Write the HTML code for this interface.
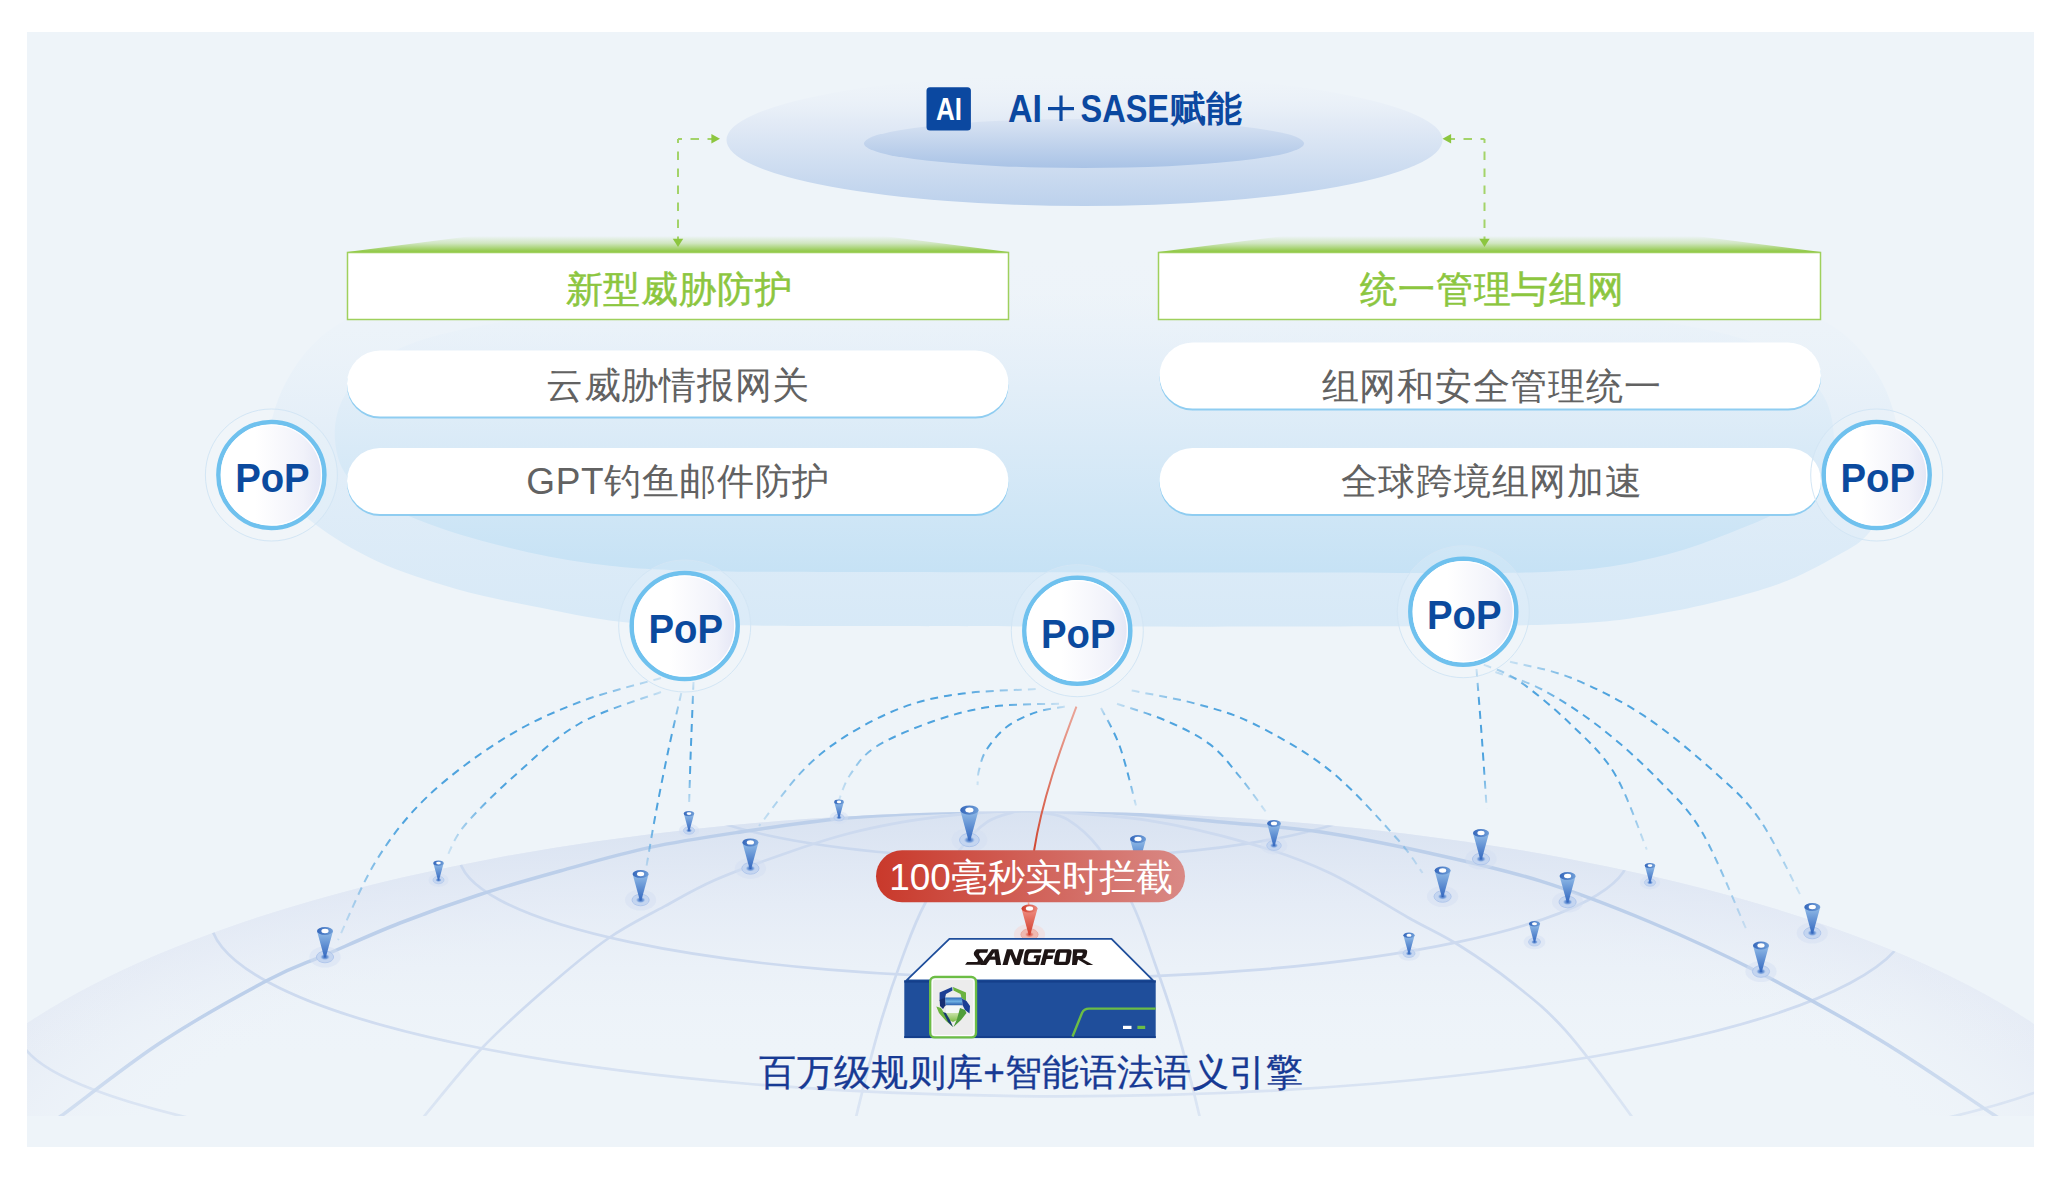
<!DOCTYPE html>
<html><head><meta charset="utf-8"><title>AI+SASE</title>
<style>
html,body{margin:0;padding:0;background:#fff;}
body{width:2061px;height:1180px;overflow:hidden;position:relative;font-family:"Liberation Sans",sans-serif;}
</style></head><body>
<svg width="2061" height="1180" viewBox="0 0 2061 1180" style="position:absolute;left:0;top:0">
<defs>
 <linearGradient id="gTopOuter" x1="0" y1="0" x2="0" y2="1">
  <stop offset="0" stop-color="#eef3f9" stop-opacity="0"/>
  <stop offset="0.35" stop-color="#e3ebf6"/>
  <stop offset="1" stop-color="#bcd1ec"/>
 </linearGradient>
 <linearGradient id="gTopInner" x1="0" y1="0" x2="0" y2="1">
  <stop offset="0" stop-color="#dae4f3"/>
  <stop offset="1" stop-color="#a9c3e6"/>
 </linearGradient>
 <linearGradient id="gCloudOuter" gradientUnits="userSpaceOnUse" x1="0" y1="250" x2="0" y2="626">
  <stop offset="0" stop-color="#eef4f9" stop-opacity="0"/>
  <stop offset="0.5" stop-color="#e3eef8"/>
  <stop offset="1" stop-color="#d7e9f7"/>
 </linearGradient>
 <linearGradient id="gCloudInner" gradientUnits="userSpaceOnUse" x1="0" y1="290" x2="0" y2="572">
  <stop offset="0" stop-color="#e9f1f9" stop-opacity="0"/>
  <stop offset="0.35" stop-color="#e2eef8"/>
  <stop offset="1" stop-color="#c6e2f5"/>
 </linearGradient>
 <linearGradient id="gGreenTrap" x1="0" y1="0" x2="0" y2="1">
  <stop offset="0" stop-color="#8cc63f" stop-opacity="0"/>
  <stop offset="0.45" stop-color="#8cc63f" stop-opacity="0.3"/>
  <stop offset="1" stop-color="#8cc63f"/>
 </linearGradient>
 <linearGradient id="gPopFill" x1="0" y1="0" x2="1" y2="0">
  <stop offset="0.35" stop-color="#ffffff"/>
  <stop offset="0.8" stop-color="#f1f2fa"/>
  <stop offset="1" stop-color="#e3e5f5"/>
 </linearGradient>
 <radialGradient id="gSphereRim" cx="0.5" cy="0.5" r="0.5">
  <stop offset="0.8" stop-color="#eef3f9" stop-opacity="0"/>
  <stop offset="1" stop-color="#e5ebf5"/>
 </radialGradient>
 <linearGradient id="gSphereTop" gradientUnits="userSpaceOnUse" x1="0" y1="808" x2="0" y2="1060">
  <stop offset="0" stop-color="#d8e2f1"/>
  <stop offset="0.4" stop-color="#e2e9f5" stop-opacity="0.7"/>
  <stop offset="1" stop-color="#eef3f9" stop-opacity="0"/>
 </linearGradient>
 <linearGradient id="gRedPill" x1="0" y1="0" x2="1" y2="0">
  <stop offset="0" stop-color="#c9392b"/>
  <stop offset="1" stop-color="#d98985"/>
 </linearGradient>
 <linearGradient id="gRedLine" x1="0" y1="0" x2="0" y2="1">
  <stop offset="0" stop-color="#e8836f" stop-opacity="0.7"/>
  <stop offset="1" stop-color="#d0462f"/>
 </linearGradient>
 <linearGradient id="gCone" x1="0" y1="0" x2="0" y2="1">
  <stop offset="0" stop-color="#93bde8"/>
  <stop offset="1" stop-color="#3569c0"/>
 </linearGradient>
 <linearGradient id="gCap" x1="0" y1="0" x2="1" y2="0">
  <stop offset="0" stop-color="#3567bb"/>
  <stop offset="1" stop-color="#6f9ed8"/>
 </linearGradient>
 <radialGradient id="gTipGlow" cx="0.5" cy="0.5" r="0.5">
  <stop offset="0" stop-color="#2a5db5"/>
  <stop offset="0.6" stop-color="#5f8fd6" stop-opacity="0.7"/>
  <stop offset="1" stop-color="#a9c2ea" stop-opacity="0"/>
 </radialGradient>
 <linearGradient id="gConeR" x1="0" y1="0" x2="0" y2="1">
  <stop offset="0" stop-color="#ef8f84"/>
  <stop offset="1" stop-color="#d23d2c"/>
 </linearGradient>
 <linearGradient id="gCapR" x1="0" y1="0" x2="1" y2="0">
  <stop offset="0" stop-color="#cf3a2a"/>
  <stop offset="1" stop-color="#ea8a7d"/>
 </linearGradient>
 <radialGradient id="gTipGlowR" cx="0.5" cy="0.5" r="0.5">
  <stop offset="0" stop-color="#d23d2c"/>
  <stop offset="0.6" stop-color="#e5796b" stop-opacity="0.7"/>
  <stop offset="1" stop-color="#efb9b1" stop-opacity="0"/>
 </radialGradient>
 <linearGradient id="gFade" gradientUnits="userSpaceOnUse" x1="0" y1="1000" x2="0" y2="1116">
  <stop offset="0" stop-color="#fff"/>
  <stop offset="1" stop-color="#fff" stop-opacity="0.55"/>
 </linearGradient>
 <mask id="mFade" maskUnits="userSpaceOnUse" x="0" y="0" width="2061" height="1180"><rect x="0" y="0" width="2061" height="1180" fill="url(#gFade)"/></mask>
 <clipPath id="cpPanel"><rect x="27" y="32" width="2007" height="1084"/></clipPath>
 <clipPath id="cpSphere"><ellipse cx="1030" cy="1204.5" rx="1130" ry="393.3"/></clipPath>
</defs>

<rect x="27" y="32" width="2007" height="1115" fill="#eef4f9"/>
<g clip-path="url(#cpPanel)">
<ellipse cx="1030" cy="1204.5" rx="1130" ry="393.3" fill="url(#gSphereRim)"/>
<ellipse cx="1030" cy="1204.5" rx="1130" ry="393.3" fill="url(#gSphereTop)"/>
<g clip-path="url(#cpSphere)" mask="url(#mFade)" fill="none" stroke="#cddaef" stroke-width="2.7">
<path d="M660.0,779.0 A370.0,79.8 0 0 0 1400.0,779.0" stroke="#cad8ee" stroke-width="2.5"/>
<path d="M459.0,854.7 A585.0,123.6 0 0 0 1629.0,854.7" />
<path d="M210.0,917.0 A850.0,179.4 0 0 0 1910.0,917.0" />
<path d="M18.0,1030.0 A1050.0,160.6 0 0 0 2118.0,1030.0" />
<path d="M40.0,1130.0 C43.5,1127.7 41.0,1130.5 61.0,1116.0 C81.0,1101.5 125.5,1065.7 160.0,1043.0 C194.5,1020.3 240.3,994.7 268.0,980.0 C295.7,965.3 304.0,964.1 326.0,954.6 C348.0,945.1 374.6,932.9 400.0,923.0 C425.4,913.1 451.8,903.7 478.5,895.0 C505.2,886.3 531.4,878.9 560.0,871.0 C588.6,863.1 618.8,854.1 650.0,847.4 C681.2,840.7 714.7,835.9 747.0,831.0 C779.3,826.1 811.7,821.4 844.0,818.3 C876.3,815.2 908.3,813.8 941.0,812.5 C973.7,811.2 1008.5,810.2 1040.0,810.5 C1071.5,810.8 1099.3,812.0 1130.0,814.0 C1160.7,816.0 1192.2,819.2 1224.0,822.2 C1255.8,825.2 1286.7,826.8 1321.0,832.0 C1355.3,837.2 1393.5,845.1 1430.0,853.2 C1466.5,861.4 1503.3,869.4 1540.0,880.9 C1576.7,892.4 1613.4,906.7 1650.0,922.0 C1686.6,937.3 1721.2,953.1 1759.5,972.8 C1797.8,992.5 1840.9,1016.3 1880.0,1040.0 C1919.1,1063.7 1970.7,1099.5 1994.0,1115.0 C2017.3,1130.5 2015.7,1130.0 2020.0,1133.0" stroke="#bccfea" stroke-width="3.5"/>
<path d="M405.0,1140.0 C408.2,1136.0 411.7,1131.2 424.4,1116.0 C437.1,1100.8 461.7,1069.5 481.3,1048.8 C500.9,1028.1 521.3,1010.1 542.3,991.8 C563.3,973.5 587.0,953.2 607.4,939.0 C627.8,924.8 646.5,916.2 664.4,906.4 C682.3,896.6 694.8,888.9 715.0,880.0 C735.2,871.1 764.4,860.7 785.9,853.2 C807.4,845.7 824.6,840.0 844.0,834.8 C863.4,829.6 882.6,825.6 902.0,822.2 C921.4,818.8 941.0,816.4 960.5,814.4 C980.0,812.4 1005.5,811.1 1018.7,810.5 C1032.0,809.9 1036.5,810.5 1040.0,810.5"/>
<path d="M1020.0,810.5 C1023.3,810.6 1018.9,809.4 1040.0,811.0 C1061.1,812.6 1111.4,814.8 1146.4,820.2 C1181.4,825.6 1219.6,834.9 1250.0,843.6 C1280.4,852.3 1302.5,860.2 1328.8,872.5 C1355.1,884.8 1385.7,905.0 1407.6,917.2 C1429.5,929.5 1442.7,935.0 1460.2,946.0 C1477.7,957.0 1495.2,968.9 1512.7,982.9 C1530.2,996.9 1545.5,1008.1 1565.2,1030.2 C1584.9,1052.3 1617.7,1097.2 1631.0,1115.5 C1644.3,1133.8 1642.7,1135.9 1645.0,1140.0"/>
<path d="M852.0,1140.0 C852.8,1135.8 851.9,1134.1 856.6,1114.7 C861.3,1095.3 872.6,1050.1 880.3,1023.8 C888.0,997.4 895.2,976.6 902.7,956.6 C910.2,936.6 915.2,921.7 925.0,903.5 C934.8,885.3 951.2,861.1 961.5,847.6 C971.8,834.1 978.2,828.2 986.6,822.4 C995.0,816.6 1004.6,814.7 1011.8,812.6 C1019.0,810.5 1024.5,810.4 1030.0,810.0 C1035.5,809.6 1042.5,810.0 1045.0,810.0"/>
<path d="M1015.0,810.0 C1017.5,810.0 1025.4,809.6 1030.0,810.0 C1034.6,810.4 1036.3,811.0 1042.6,812.6 C1048.9,814.2 1058.5,813.8 1067.8,819.6 C1077.1,825.4 1087.8,833.6 1098.5,847.6 C1109.2,861.6 1122.8,884.4 1132.1,903.5 C1141.4,922.6 1147.0,941.2 1154.5,962.2 C1162.0,983.2 1169.5,1004.0 1176.9,1029.4 C1184.4,1054.8 1194.9,1096.3 1199.2,1114.7 C1203.5,1133.1 1202.4,1135.8 1203.0,1140.0"/>
</g>
</g>
<ellipse cx="1084.5" cy="140" rx="358" ry="66" fill="url(#gTopOuter)"/>
<ellipse cx="1084" cy="143.5" rx="220" ry="24.5" fill="url(#gTopInner)"/>
<path d="M1084.0,245.0 C1178.7,245.0 1287.3,249.2 1368.0,252.0 C1448.7,254.8 1509.7,257.0 1568.0,262.0 C1626.3,267.0 1675.0,272.0 1718.0,282.0 C1761.0,292.0 1799.3,306.5 1826.0,322.0 C1852.7,337.5 1865.8,355.3 1878.0,375.0 C1890.2,394.7 1897.3,420.8 1899.0,440.0 C1900.7,459.2 1892.9,474.7 1888.0,490.0 C1883.1,505.3 1878.2,521.0 1869.6,532.0 C1861.0,543.0 1853.1,546.8 1836.5,556.0 C1819.9,565.2 1799.4,577.4 1770.0,587.0 C1740.6,596.6 1696.7,607.3 1660.0,613.6 C1623.3,619.9 1610.0,622.5 1550.0,624.6 C1490.0,626.8 1377.7,626.2 1300.0,626.5 C1222.3,626.8 1158.2,626.6 1084.0,626.5 C1009.8,626.4 919.0,626.2 855.0,626.0 C791.0,625.8 739.1,625.7 700.0,625.0 C660.9,624.3 648.1,624.8 620.2,621.7 C592.4,618.6 560.4,611.7 532.9,606.2 C505.4,600.7 481.2,596.2 455.3,588.7 C429.4,581.2 400.9,572.2 377.6,561.5 C354.3,550.8 330.9,536.5 315.5,524.6 C300.1,512.7 292.8,504.1 285.0,490.0 C277.2,475.9 268.2,459.2 269.0,440.0 C269.8,420.8 277.8,394.7 290.0,375.0 C302.2,355.3 315.3,337.5 342.0,322.0 C368.7,306.5 407.0,292.0 450.0,282.0 C493.0,272.0 541.7,267.0 600.0,262.0 C658.3,257.0 719.3,254.8 800.0,252.0 C880.7,249.2 989.3,245.0 1084.0,245.0 Z" fill="url(#gCloudOuter)"/>
<path d="M1084.0,295.0 C1178.7,295.0 1287.3,297.5 1368.0,300.0 C1448.7,302.5 1511.3,305.0 1568.0,310.0 C1624.7,315.0 1672.2,322.3 1708.0,330.0 C1743.8,337.7 1763.8,345.2 1783.0,356.0 C1802.2,366.8 1814.5,381.0 1823.0,395.0 C1831.5,409.0 1833.6,426.7 1834.0,440.0 C1834.4,453.3 1832.4,464.2 1825.5,474.8 C1818.6,485.4 1805.3,494.9 1792.4,503.4 C1779.5,511.8 1770.4,516.7 1748.3,525.5 C1726.2,534.3 1693.0,548.6 1660.0,556.3 C1627.0,564.0 1610.0,569.0 1550.0,571.7 C1490.0,574.4 1377.7,572.4 1300.0,572.5 C1222.3,572.6 1150.8,572.6 1084.0,572.5 C1017.2,572.4 963.0,572.2 899.0,572.0 C835.0,571.8 751.3,572.4 700.0,571.0 C648.7,569.6 625.3,568.0 591.0,563.5 C556.7,559.0 524.4,551.9 494.0,544.0 C463.6,536.1 432.4,526.3 408.7,516.0 C385.0,505.7 364.3,494.7 352.0,482.0 C339.7,469.3 336.2,454.5 335.0,440.0 C333.8,425.5 336.7,409.0 345.0,395.0 C353.3,381.0 365.8,366.8 385.0,356.0 C404.2,345.2 424.2,337.7 460.0,330.0 C495.8,322.3 543.3,315.0 600.0,310.0 C656.7,305.0 719.3,302.5 800.0,300.0 C880.7,297.5 989.3,295.0 1084.0,295.0 Z" fill="url(#gCloudInner)"/>
<g fill="none" stroke="#a3d36a" stroke-width="2" stroke-dasharray="8.5 8.5" stroke-dashoffset="4.5">
<path d="M678,139 V240"/><path d="M678,139 H712"/>
<path d="M1484.5,139 V240"/><path d="M1484.5,139 H1450.5"/>
</g>
<g fill="#8cc63f">
<path d="M672.8,238.8 L683.2,238.8 L678,247 Z"/>
<path d="M711.4,134 L711.4,143.6 L720,138.8 Z"/>
<path d="M1479.3,238.8 L1489.7,238.8 L1484.5,247 Z"/>
<path d="M1451.1,134 L1451.1,143.6 L1442.5,138.8 Z"/>
</g>
<path d="M347,252 L472,236 L884,236 L1009,252 Z" fill="url(#gGreenTrap)"/>
<rect x="347.5" y="252.5" width="661" height="67" fill="#fff" stroke="#9fd05d" stroke-width="1.5"/>
<path d="M1158,252 L1283,236 L1696,236 L1821,252 Z" fill="url(#gGreenTrap)"/>
<rect x="1158.5" y="252.5" width="662" height="67" fill="#fff" stroke="#9fd05d" stroke-width="1.5"/>
<rect x="347.0" y="352.5" width="661.5" height="66.0" rx="33.0" fill="#8fcdf1"/>
<rect x="347.0" y="350.5" width="661.5" height="66.0" rx="33.0" fill="#fff"/>
<rect x="347.0" y="450.0" width="661.5" height="66.0" rx="33.0" fill="#8fcdf1"/>
<rect x="347.0" y="448.0" width="661.5" height="66.0" rx="33.0" fill="#fff"/>
<rect x="1159.5" y="344.5" width="661.5" height="66.0" rx="33.0" fill="#8fcdf1"/>
<rect x="1159.5" y="342.5" width="661.5" height="66.0" rx="33.0" fill="#fff"/>
<rect x="1159.5" y="450.0" width="661.5" height="66.0" rx="33.0" fill="#8fcdf1"/>
<rect x="1159.5" y="448.0" width="661.5" height="66.0" rx="33.0" fill="#fff"/>
<g fill="none" stroke-width="2" stroke-dasharray="8 6">
<linearGradient id="gArc0" gradientUnits="userSpaceOnUse" x1="661.0" y1="678.0" x2="338.0" y2="940.0"><stop offset="0" stop-color="#4ea3de" stop-opacity="0.25"/><stop offset="0.22" stop-color="#4ea3de"/><stop offset="0.7" stop-color="#4ea3de"/><stop offset="1" stop-color="#4ea3de" stop-opacity="0.2"/></linearGradient>
<path d="M661.0,678.0 C647.4,682.0 605.9,691.9 579.6,702.0 C553.3,712.1 528.8,723.0 503.4,738.8 C478.0,754.6 448.2,776.6 427.0,797.0 C405.8,817.4 390.8,837.2 376.0,861.0 C361.2,884.8 344.3,926.8 338.0,940.0" stroke="url(#gArc0)"/>
<linearGradient id="gArc1" gradientUnits="userSpaceOnUse" x1="661.0" y1="692.0" x2="447.4" y2="855.7"><stop offset="0" stop-color="#4ea3de" stop-opacity="0.25"/><stop offset="0.22" stop-color="#4ea3de"/><stop offset="0.7" stop-color="#4ea3de"/><stop offset="1" stop-color="#4ea3de" stop-opacity="0.2"/></linearGradient>
<path d="M661.0,692.0 C647.4,697.2 603.8,709.8 579.6,723.5 C555.4,737.2 535.1,757.5 516.0,774.4 C496.9,791.3 476.4,811.5 465.0,825.0 C453.6,838.5 450.3,850.6 447.4,855.7" stroke="url(#gArc1)"/>
<linearGradient id="gArc2" gradientUnits="userSpaceOnUse" x1="681.3" y1="693.0" x2="645.7" y2="871.0"><stop offset="0" stop-color="#4ea3de" stop-opacity="0.25"/><stop offset="0.22" stop-color="#4ea3de"/><stop offset="0.7" stop-color="#4ea3de"/><stop offset="1" stop-color="#4ea3de" stop-opacity="0.2"/></linearGradient>
<path d="M681.3,693.0 C679.2,702.3 672.8,729.1 668.6,749.0 C664.4,768.9 659.7,792.2 655.9,812.5 C652.1,832.8 647.4,861.2 645.7,871.0" stroke="url(#gArc2)"/>
<linearGradient id="gArc3" gradientUnits="userSpaceOnUse" x1="693.5" y1="682.0" x2="689.0" y2="807.4"><stop offset="0" stop-color="#4ea3de" stop-opacity="0.25"/><stop offset="0.22" stop-color="#4ea3de"/><stop offset="0.7" stop-color="#4ea3de"/><stop offset="1" stop-color="#4ea3de" stop-opacity="0.2"/></linearGradient>
<path d="M693.5,682.0 C693.1,692.5 691.8,724.1 691.0,745.0 C690.2,765.9 689.3,797.0 689.0,807.4" stroke="url(#gArc3)"/>
<linearGradient id="gArc4" gradientUnits="userSpaceOnUse" x1="1035.7" y1="689.0" x2="759.0" y2="826.0"><stop offset="0" stop-color="#4ea3de" stop-opacity="0.25"/><stop offset="0.22" stop-color="#4ea3de"/><stop offset="0.7" stop-color="#4ea3de"/><stop offset="1" stop-color="#4ea3de" stop-opacity="0.2"/></linearGradient>
<path d="M1035.7,689.0 C1023.6,689.8 984.7,690.6 962.9,693.5 C941.1,696.4 924.1,699.6 904.7,706.6 C885.3,713.6 863.4,725.0 846.4,735.7 C829.4,746.4 817.4,755.6 802.8,770.6 C788.2,785.6 766.3,816.8 759.0,826.0" stroke="url(#gArc4)"/>
<linearGradient id="gArc5" gradientUnits="userSpaceOnUse" x1="1059.0" y1="703.7" x2="839.0" y2="800.0"><stop offset="0" stop-color="#4ea3de" stop-opacity="0.25"/><stop offset="0.22" stop-color="#4ea3de"/><stop offset="0.7" stop-color="#4ea3de"/><stop offset="1" stop-color="#4ea3de" stop-opacity="0.2"/></linearGradient>
<path d="M1059.0,703.7 C1047.8,704.2 1012.9,703.7 992.0,706.6 C971.1,709.5 953.2,714.3 933.8,721.0 C914.4,727.7 889.6,738.0 875.6,747.0 C861.6,756.0 856.1,766.2 850.0,775.0 C843.9,783.8 840.8,795.8 839.0,800.0" stroke="url(#gArc5)"/>
<linearGradient id="gArc6" gradientUnits="userSpaceOnUse" x1="1064.8" y1="706.6" x2="977.5" y2="785.2"><stop offset="0" stop-color="#4ea3de" stop-opacity="0.25"/><stop offset="0.22" stop-color="#4ea3de"/><stop offset="0.7" stop-color="#4ea3de"/><stop offset="1" stop-color="#4ea3de" stop-opacity="0.2"/></linearGradient>
<path d="M1064.8,706.6 C1060.0,707.6 1045.4,709.0 1035.7,712.4 C1026.0,715.8 1014.9,720.7 1006.6,727.0 C998.4,733.3 990.8,742.9 986.2,750.2 C981.6,757.5 980.4,764.8 978.9,770.6 C977.4,776.4 977.7,782.8 977.5,785.2" stroke="url(#gArc6)"/>
<linearGradient id="gArc7" gradientUnits="userSpaceOnUse" x1="1101.0" y1="708.0" x2="1136.0" y2="805.6"><stop offset="0" stop-color="#4ea3de" stop-opacity="0.25"/><stop offset="0.22" stop-color="#4ea3de"/><stop offset="0.7" stop-color="#4ea3de"/><stop offset="1" stop-color="#4ea3de" stop-opacity="0.2"/></linearGradient>
<path d="M1101.0,708.0 C1104.2,714.5 1114.2,730.7 1120.0,747.0 C1125.8,763.3 1133.3,795.8 1136.0,805.6" stroke="url(#gArc7)"/>
<linearGradient id="gArc8" gradientUnits="userSpaceOnUse" x1="1117.0" y1="703.7" x2="1265.6" y2="811.4"><stop offset="0" stop-color="#4ea3de" stop-opacity="0.25"/><stop offset="0.22" stop-color="#4ea3de"/><stop offset="0.7" stop-color="#4ea3de"/><stop offset="1" stop-color="#4ea3de" stop-opacity="0.2"/></linearGradient>
<path d="M1117.0,703.7 C1125.3,706.6 1151.2,714.2 1166.7,721.0 C1182.2,727.8 1197.9,735.2 1210.0,744.4 C1222.1,753.6 1230.2,765.2 1239.5,776.4 C1248.8,787.6 1261.2,805.6 1265.6,811.4" stroke="url(#gArc8)"/>
<linearGradient id="gArc9" gradientUnits="userSpaceOnUse" x1="1131.7" y1="690.6" x2="1422.6" y2="873.0"><stop offset="0" stop-color="#4ea3de" stop-opacity="0.25"/><stop offset="0.22" stop-color="#4ea3de"/><stop offset="0.7" stop-color="#4ea3de"/><stop offset="1" stop-color="#4ea3de" stop-opacity="0.2"/></linearGradient>
<path d="M1131.7,690.6 C1142.4,692.8 1175.4,698.1 1195.8,703.7 C1216.2,709.3 1231.6,712.9 1254.0,724.0 C1276.4,735.1 1306.3,751.6 1330.0,770.6 C1353.7,789.6 1381.0,820.9 1396.4,838.0 C1411.8,855.1 1418.2,867.2 1422.6,873.0" stroke="url(#gArc9)"/>
<linearGradient id="gArc10" gradientUnits="userSpaceOnUse" x1="1476.5" y1="669.0" x2="1486.7" y2="808.8"><stop offset="0" stop-color="#4ea3de" stop-opacity="0.25"/><stop offset="0.22" stop-color="#4ea3de"/><stop offset="0.7" stop-color="#4ea3de"/><stop offset="1" stop-color="#4ea3de" stop-opacity="0.2"/></linearGradient>
<path d="M1476.5,669.0 C1477.4,680.8 1480.3,716.7 1482.0,740.0 C1483.7,763.3 1485.9,797.3 1486.7,808.8" stroke="url(#gArc10)"/>
<linearGradient id="gArc11" gradientUnits="userSpaceOnUse" x1="1483.8" y1="664.7" x2="1646.8" y2="849.6"><stop offset="0" stop-color="#4ea3de" stop-opacity="0.25"/><stop offset="0.22" stop-color="#4ea3de"/><stop offset="0.7" stop-color="#4ea3de"/><stop offset="1" stop-color="#4ea3de" stop-opacity="0.2"/></linearGradient>
<path d="M1483.8,664.7 C1489.6,667.4 1504.2,670.8 1518.7,680.8 C1533.2,690.8 1555.0,708.9 1571.0,724.4 C1587.0,739.9 1602.2,753.1 1614.8,774.0 C1627.4,794.9 1641.5,837.0 1646.8,849.6" stroke="url(#gArc11)"/>
<linearGradient id="gArc12" gradientUnits="userSpaceOnUse" x1="1495.4" y1="672.0" x2="1745.8" y2="928.2"><stop offset="0" stop-color="#4ea3de" stop-opacity="0.25"/><stop offset="0.22" stop-color="#4ea3de"/><stop offset="0.7" stop-color="#4ea3de"/><stop offset="1" stop-color="#4ea3de" stop-opacity="0.2"/></linearGradient>
<path d="M1495.4,672.0 C1503.2,674.9 1524.6,680.3 1542.0,689.5 C1559.4,698.7 1580.6,712.3 1600.0,727.3 C1619.4,742.3 1641.4,762.2 1658.4,779.7 C1675.4,797.2 1687.4,807.2 1702.0,832.0 C1716.6,856.8 1738.5,912.2 1745.8,928.2" stroke="url(#gArc12)"/>
<linearGradient id="gArc13" gradientUnits="userSpaceOnUse" x1="1510.0" y1="661.8" x2="1801.0" y2="896.2"><stop offset="0" stop-color="#4ea3de" stop-opacity="0.25"/><stop offset="0.22" stop-color="#4ea3de"/><stop offset="0.7" stop-color="#4ea3de"/><stop offset="1" stop-color="#4ea3de" stop-opacity="0.2"/></linearGradient>
<path d="M1510.0,661.8 C1520.2,664.5 1548.7,668.8 1571.0,677.8 C1593.3,686.8 1619.6,699.7 1643.9,715.7 C1668.2,731.7 1697.3,756.5 1716.7,774.0 C1736.1,791.5 1746.2,800.1 1760.3,820.5 C1774.3,840.9 1794.2,883.6 1801.0,896.2" stroke="url(#gArc13)"/>
</g>
<circle cx="271.4" cy="475.0" r="66" fill="#ffffff" fill-opacity="0.12" stroke="#d3e6f5" stroke-width="1"/>
<circle cx="271.4" cy="475.0" r="53" fill="url(#gPopFill)" stroke="#6fc1ee" stroke-width="4.5"/>
<circle cx="271.4" cy="475.0" r="50" fill="none" stroke="#ffffff" stroke-width="1.2"/>
<text x="272.4" y="492.1" text-anchor="middle" font-family="Liberation Sans, sans-serif" font-weight="bold" font-size="40" fill="#0b4a9e" textLength="74.5" lengthAdjust="spacingAndGlyphs">PoP</text>
<circle cx="1876.7" cy="475.0" r="66" fill="#ffffff" fill-opacity="0.12" stroke="#d3e6f5" stroke-width="1"/>
<circle cx="1876.7" cy="475.0" r="53" fill="url(#gPopFill)" stroke="#6fc1ee" stroke-width="4.5"/>
<circle cx="1876.7" cy="475.0" r="50" fill="none" stroke="#ffffff" stroke-width="1.2"/>
<text x="1877.7" y="492.1" text-anchor="middle" font-family="Liberation Sans, sans-serif" font-weight="bold" font-size="40" fill="#0b4a9e" textLength="74.5" lengthAdjust="spacingAndGlyphs">PoP</text>
<circle cx="684.7" cy="626.0" r="66" fill="#ffffff" fill-opacity="0.12" stroke="#d3e6f5" stroke-width="1"/>
<circle cx="684.7" cy="626.0" r="53" fill="url(#gPopFill)" stroke="#6fc1ee" stroke-width="4.5"/>
<circle cx="684.7" cy="626.0" r="50" fill="none" stroke="#ffffff" stroke-width="1.2"/>
<text x="685.7" y="643.1" text-anchor="middle" font-family="Liberation Sans, sans-serif" font-weight="bold" font-size="40" fill="#0b4a9e" textLength="74.5" lengthAdjust="spacingAndGlyphs">PoP</text>
<circle cx="1077.3" cy="630.7" r="66" fill="#ffffff" fill-opacity="0.12" stroke="#d3e6f5" stroke-width="1"/>
<circle cx="1077.3" cy="630.7" r="53" fill="url(#gPopFill)" stroke="#6fc1ee" stroke-width="4.5"/>
<circle cx="1077.3" cy="630.7" r="50" fill="none" stroke="#ffffff" stroke-width="1.2"/>
<text x="1078.3" y="647.8" text-anchor="middle" font-family="Liberation Sans, sans-serif" font-weight="bold" font-size="40" fill="#0b4a9e" textLength="74.5" lengthAdjust="spacingAndGlyphs">PoP</text>
<circle cx="1463.3" cy="611.7" r="66" fill="#ffffff" fill-opacity="0.12" stroke="#d3e6f5" stroke-width="1"/>
<circle cx="1463.3" cy="611.7" r="53" fill="url(#gPopFill)" stroke="#6fc1ee" stroke-width="4.5"/>
<circle cx="1463.3" cy="611.7" r="50" fill="none" stroke="#ffffff" stroke-width="1.2"/>
<text x="1464.3" y="628.8" text-anchor="middle" font-family="Liberation Sans, sans-serif" font-weight="bold" font-size="40" fill="#0b4a9e" textLength="74.5" lengthAdjust="spacingAndGlyphs">PoP</text>
<g transform="translate(325.0,957.0) scale(1.00)" opacity="1.00"><ellipse cx="0" cy="0" rx="15.6" ry="10.5" fill="#d3def2" fill-opacity="0.45"/><ellipse cx="0" cy="0" rx="8.6" ry="5.8" fill="#c4d5f0" stroke="#a9c2ea" stroke-width="0.8"/><ellipse cx="0" cy="0" rx="5" ry="3.2" fill="url(#gTipGlow)"/><path d="M-8,-26 L8,-26 L0.9,0 L-0.9,0 Z" fill="url(#gCone)"/><ellipse cx="0" cy="-26" rx="8" ry="4" fill="url(#gCap)"/><ellipse cx="0" cy="-26" rx="3.6" ry="2.2" fill="#fff"/></g>
<g transform="translate(438.5,880.0) scale(0.65)" opacity="1.00"><ellipse cx="0" cy="0" rx="15.6" ry="10.5" fill="#d3def2" fill-opacity="0.45"/><ellipse cx="0" cy="0" rx="8.6" ry="5.8" fill="#c4d5f0" stroke="#a9c2ea" stroke-width="0.8"/><ellipse cx="0" cy="0" rx="5" ry="3.2" fill="url(#gTipGlow)"/><path d="M-8,-26 L8,-26 L0.9,0 L-0.9,0 Z" fill="url(#gCone)"/><ellipse cx="0" cy="-26" rx="8" ry="4" fill="url(#gCap)"/><ellipse cx="0" cy="-26" rx="3.6" ry="2.2" fill="#fff"/></g>
<g transform="translate(640.6,900.0) scale(1.00)" opacity="1.00"><ellipse cx="0" cy="0" rx="15.6" ry="10.5" fill="#d3def2" fill-opacity="0.45"/><ellipse cx="0" cy="0" rx="8.6" ry="5.8" fill="#c4d5f0" stroke="#a9c2ea" stroke-width="0.8"/><ellipse cx="0" cy="0" rx="5" ry="3.2" fill="url(#gTipGlow)"/><path d="M-8,-26 L8,-26 L0.9,0 L-0.9,0 Z" fill="url(#gCone)"/><ellipse cx="0" cy="-26" rx="8" ry="4" fill="url(#gCap)"/><ellipse cx="0" cy="-26" rx="3.6" ry="2.2" fill="#fff"/></g>
<g transform="translate(689.0,830.5) scale(0.65)" opacity="1.00"><ellipse cx="0" cy="0" rx="15.6" ry="10.5" fill="#d3def2" fill-opacity="0.45"/><ellipse cx="0" cy="0" rx="8.6" ry="5.8" fill="#c4d5f0" stroke="#a9c2ea" stroke-width="0.8"/><ellipse cx="0" cy="0" rx="5" ry="3.2" fill="url(#gTipGlow)"/><path d="M-8,-26 L8,-26 L0.9,0 L-0.9,0 Z" fill="url(#gCone)"/><ellipse cx="0" cy="-26" rx="8" ry="4" fill="url(#gCap)"/><ellipse cx="0" cy="-26" rx="3.6" ry="2.2" fill="#fff"/></g>
<g transform="translate(750.4,868.4) scale(1.00)" opacity="1.00"><ellipse cx="0" cy="0" rx="15.6" ry="10.5" fill="#d3def2" fill-opacity="0.45"/><ellipse cx="0" cy="0" rx="8.6" ry="5.8" fill="#c4d5f0" stroke="#a9c2ea" stroke-width="0.8"/><ellipse cx="0" cy="0" rx="5" ry="3.2" fill="url(#gTipGlow)"/><path d="M-8,-26 L8,-26 L0.9,0 L-0.9,0 Z" fill="url(#gCone)"/><ellipse cx="0" cy="-26" rx="8" ry="4" fill="url(#gCap)"/><ellipse cx="0" cy="-26" rx="3.6" ry="2.2" fill="#fff"/></g>
<g transform="translate(839.0,817.5) scale(0.60)" opacity="1.00"><ellipse cx="0" cy="0" rx="15.6" ry="10.5" fill="#d3def2" fill-opacity="0.45"/><ellipse cx="0" cy="0" rx="8.6" ry="5.8" fill="#c4d5f0" stroke="#a9c2ea" stroke-width="0.8"/><ellipse cx="0" cy="0" rx="5" ry="3.2" fill="url(#gTipGlow)"/><path d="M-8,-26 L8,-26 L0.9,0 L-0.9,0 Z" fill="url(#gCone)"/><ellipse cx="0" cy="-26" rx="8" ry="4" fill="url(#gCap)"/><ellipse cx="0" cy="-26" rx="3.6" ry="2.2" fill="#fff"/></g>
<g transform="translate(969.4,840.0) scale(1.15)" opacity="1.00"><ellipse cx="0" cy="0" rx="15.6" ry="10.5" fill="#d3def2" fill-opacity="0.45"/><ellipse cx="0" cy="0" rx="8.6" ry="5.8" fill="#c4d5f0" stroke="#a9c2ea" stroke-width="0.8"/><ellipse cx="0" cy="0" rx="5" ry="3.2" fill="url(#gTipGlow)"/><path d="M-8,-26 L8,-26 L0.9,0 L-0.9,0 Z" fill="url(#gCone)"/><ellipse cx="0" cy="-26" rx="8" ry="4" fill="url(#gCap)"/><ellipse cx="0" cy="-26" rx="3.6" ry="2.2" fill="#fff"/></g>
<g transform="translate(1138.0,865.0) scale(1.00)" opacity="1.00"><ellipse cx="0" cy="0" rx="15.6" ry="10.5" fill="#d3def2" fill-opacity="0.45"/><ellipse cx="0" cy="0" rx="8.6" ry="5.8" fill="#c4d5f0" stroke="#a9c2ea" stroke-width="0.8"/><ellipse cx="0" cy="0" rx="5" ry="3.2" fill="url(#gTipGlow)"/><path d="M-8,-26 L8,-26 L0.9,0 L-0.9,0 Z" fill="url(#gCone)"/><ellipse cx="0" cy="-26" rx="8" ry="4" fill="url(#gCap)"/><ellipse cx="0" cy="-26" rx="3.6" ry="2.2" fill="#fff"/></g>
<g transform="translate(1274.0,845.5) scale(0.85)" opacity="1.00"><ellipse cx="0" cy="0" rx="15.6" ry="10.5" fill="#d3def2" fill-opacity="0.45"/><ellipse cx="0" cy="0" rx="8.6" ry="5.8" fill="#c4d5f0" stroke="#a9c2ea" stroke-width="0.8"/><ellipse cx="0" cy="0" rx="5" ry="3.2" fill="url(#gTipGlow)"/><path d="M-8,-26 L8,-26 L0.9,0 L-0.9,0 Z" fill="url(#gCone)"/><ellipse cx="0" cy="-26" rx="8" ry="4" fill="url(#gCap)"/><ellipse cx="0" cy="-26" rx="3.6" ry="2.2" fill="#fff"/></g>
<g transform="translate(1442.6,896.5) scale(1.00)" opacity="1.00"><ellipse cx="0" cy="0" rx="15.6" ry="10.5" fill="#d3def2" fill-opacity="0.45"/><ellipse cx="0" cy="0" rx="8.6" ry="5.8" fill="#c4d5f0" stroke="#a9c2ea" stroke-width="0.8"/><ellipse cx="0" cy="0" rx="5" ry="3.2" fill="url(#gTipGlow)"/><path d="M-8,-26 L8,-26 L0.9,0 L-0.9,0 Z" fill="url(#gCone)"/><ellipse cx="0" cy="-26" rx="8" ry="4" fill="url(#gCap)"/><ellipse cx="0" cy="-26" rx="3.6" ry="2.2" fill="#fff"/></g>
<g transform="translate(1481.0,859.0) scale(1.00)" opacity="1.00"><ellipse cx="0" cy="0" rx="15.6" ry="10.5" fill="#d3def2" fill-opacity="0.45"/><ellipse cx="0" cy="0" rx="8.6" ry="5.8" fill="#c4d5f0" stroke="#a9c2ea" stroke-width="0.8"/><ellipse cx="0" cy="0" rx="5" ry="3.2" fill="url(#gTipGlow)"/><path d="M-8,-26 L8,-26 L0.9,0 L-0.9,0 Z" fill="url(#gCone)"/><ellipse cx="0" cy="-26" rx="8" ry="4" fill="url(#gCap)"/><ellipse cx="0" cy="-26" rx="3.6" ry="2.2" fill="#fff"/></g>
<g transform="translate(1409.0,953.5) scale(0.70)" opacity="1.00"><ellipse cx="0" cy="0" rx="15.6" ry="10.5" fill="#d3def2" fill-opacity="0.45"/><ellipse cx="0" cy="0" rx="8.6" ry="5.8" fill="#c4d5f0" stroke="#a9c2ea" stroke-width="0.8"/><ellipse cx="0" cy="0" rx="5" ry="3.2" fill="url(#gTipGlow)"/><path d="M-8,-26 L8,-26 L0.9,0 L-0.9,0 Z" fill="url(#gCone)"/><ellipse cx="0" cy="-26" rx="8" ry="4" fill="url(#gCap)"/><ellipse cx="0" cy="-26" rx="3.6" ry="2.2" fill="#fff"/></g>
<g transform="translate(1534.5,942.0) scale(0.70)" opacity="1.00"><ellipse cx="0" cy="0" rx="15.6" ry="10.5" fill="#d3def2" fill-opacity="0.45"/><ellipse cx="0" cy="0" rx="8.6" ry="5.8" fill="#c4d5f0" stroke="#a9c2ea" stroke-width="0.8"/><ellipse cx="0" cy="0" rx="5" ry="3.2" fill="url(#gTipGlow)"/><path d="M-8,-26 L8,-26 L0.9,0 L-0.9,0 Z" fill="url(#gCone)"/><ellipse cx="0" cy="-26" rx="8" ry="4" fill="url(#gCap)"/><ellipse cx="0" cy="-26" rx="3.6" ry="2.2" fill="#fff"/></g>
<g transform="translate(1567.6,902.0) scale(1.00)" opacity="1.00"><ellipse cx="0" cy="0" rx="15.6" ry="10.5" fill="#d3def2" fill-opacity="0.45"/><ellipse cx="0" cy="0" rx="8.6" ry="5.8" fill="#c4d5f0" stroke="#a9c2ea" stroke-width="0.8"/><ellipse cx="0" cy="0" rx="5" ry="3.2" fill="url(#gTipGlow)"/><path d="M-8,-26 L8,-26 L0.9,0 L-0.9,0 Z" fill="url(#gCone)"/><ellipse cx="0" cy="-26" rx="8" ry="4" fill="url(#gCap)"/><ellipse cx="0" cy="-26" rx="3.6" ry="2.2" fill="#fff"/></g>
<g transform="translate(1650.0,882.5) scale(0.65)" opacity="1.00"><ellipse cx="0" cy="0" rx="15.6" ry="10.5" fill="#d3def2" fill-opacity="0.45"/><ellipse cx="0" cy="0" rx="8.6" ry="5.8" fill="#c4d5f0" stroke="#a9c2ea" stroke-width="0.8"/><ellipse cx="0" cy="0" rx="5" ry="3.2" fill="url(#gTipGlow)"/><path d="M-8,-26 L8,-26 L0.9,0 L-0.9,0 Z" fill="url(#gCone)"/><ellipse cx="0" cy="-26" rx="8" ry="4" fill="url(#gCap)"/><ellipse cx="0" cy="-26" rx="3.6" ry="2.2" fill="#fff"/></g>
<g transform="translate(1761.0,971.5) scale(1.00)" opacity="1.00"><ellipse cx="0" cy="0" rx="15.6" ry="10.5" fill="#d3def2" fill-opacity="0.45"/><ellipse cx="0" cy="0" rx="8.6" ry="5.8" fill="#c4d5f0" stroke="#a9c2ea" stroke-width="0.8"/><ellipse cx="0" cy="0" rx="5" ry="3.2" fill="url(#gTipGlow)"/><path d="M-8,-26 L8,-26 L0.9,0 L-0.9,0 Z" fill="url(#gCone)"/><ellipse cx="0" cy="-26" rx="8" ry="4" fill="url(#gCap)"/><ellipse cx="0" cy="-26" rx="3.6" ry="2.2" fill="#fff"/></g>
<g transform="translate(1812.3,933.0) scale(1.00)" opacity="1.00"><ellipse cx="0" cy="0" rx="15.6" ry="10.5" fill="#d3def2" fill-opacity="0.45"/><ellipse cx="0" cy="0" rx="8.6" ry="5.8" fill="#c4d5f0" stroke="#a9c2ea" stroke-width="0.8"/><ellipse cx="0" cy="0" rx="5" ry="3.2" fill="url(#gTipGlow)"/><path d="M-8,-26 L8,-26 L0.9,0 L-0.9,0 Z" fill="url(#gCone)"/><ellipse cx="0" cy="-26" rx="8" ry="4" fill="url(#gCap)"/><ellipse cx="0" cy="-26" rx="3.6" ry="2.2" fill="#fff"/></g>
<path d="M1076.4,706.7 C1060,750 1042,800 1034,851" fill="none" stroke="url(#gRedLine)" stroke-width="2"/>
<rect x="876" y="850.3" width="309" height="52" rx="26" fill="url(#gRedPill)"/>
<text x="1031" y="890" text-anchor="middle" font-family="Liberation Sans, sans-serif" font-size="37" fill="#fff">100毫秒实时拦截</text>
<path d="M1028.5,902 L1028.8,908" stroke="#f1a79b" stroke-width="1.6"/>
<g transform="translate(1029.5,934.5) scale(1.00)" opacity="1.00"><ellipse cx="0" cy="0" rx="15.6" ry="10.5" fill="#f6d3ce" fill-opacity="0.45"/><ellipse cx="0" cy="0" rx="8.6" ry="5.8" fill="#efb9b1" stroke="#eaa59b" stroke-width="0.8"/><ellipse cx="0" cy="0" rx="5" ry="3.2" fill="url(#gTipGlowR)"/><path d="M-8,-26 L8,-26 L0.9,0 L-0.9,0 Z" fill="url(#gConeR)"/><ellipse cx="0" cy="-26" rx="8" ry="4" fill="url(#gCapR)"/><ellipse cx="0" cy="-26" rx="3.6" ry="2.2" fill="#fff"/></g>
<path d="M949.4,938.9 L1111.5,938.9 L1153,980.4 L906.5,980.4 Z" fill="#fff" stroke="#1f4e9b" stroke-width="1.8" stroke-linejoin="round"/>
<rect x="904.3" y="980.4" width="251.4" height="57.7" fill="#1f4e9b"/>
<rect x="904.3" y="1036" width="251.4" height="2" fill="#143f8c"/>
<rect x="904.3" y="980.4" width="251.4" height="2.2" fill="#153f8b"/>
<g transform="translate(960,942) scale(0.06793)" fill="#1e1515" fill-rule="evenodd"><path d="M245,105 L415,105 L400,160 L300,160 Q272,165 282,192 L335,262 Q352,300 312,335 L75,335 L105,295 L250,295 Q272,288 262,265 L208,195 Q188,150 245,105 Z"/><path d="M470,105 L565,105 L605,340 L530,340 L520,262 L440,262 L385,340 L300,340 Z M462,212 L515,212 L505,150 Z"/><path d="M690,105 L770,105 L830,255 L872,105 L945,105 L875,340 L805,340 L742,185 L700,340 L625,340 Z"/><path d="M1005,105 L1205,105 L1190,160 L1040,160 Q1012,165 1007,195 L995,262 Q992,290 1025,290 L1110,290 L1123,240 L1083,240 L1095,195 L1195,195 L1157,340 L995,340 Q922,340 935,278 L950,170 Q962,105 1005,105 Z"/><path d="M1245,105 L1405,105 L1390,160 L1296,160 L1286,200 L1374,200 L1361,250 L1273,250 L1250,340 L1183,340 Z"/><path d="M1465,105 L1600,105 Q1652,105 1642,162 L1618,290 Q1605,340 1552,340 L1425,340 Q1372,340 1383,288 L1408,162 Q1418,105 1465,105 Z M1475,160 L1572,160 L1553,290 L1455,290 Z"/><path d="M1665,105 L1825,105 Q1885,105 1870,165 L1860,205 Q1848,240 1805,250 L1962,340 L1872,340 L1738,258 L1718,340 L1648,340 Z M1728,160 L1798,160 Q1810,160 1805,177 L1800,192 Q1795,207 1778,207 L1716,207 Z"/></g>
<rect x="930.2" y="977" width="45.8" height="60.4" rx="4.5" fill="#ececec" stroke="#6cbd45" stroke-width="2.4"/>
<rect x="932.3" y="979" width="41.6" height="56.4" rx="3" fill="none" stroke="#ffffff" stroke-width="1"/>
<path d="M1072.5,1036.5 L1082,1013 Q1084,1008.6 1089,1008.6 L1155.7,1008.6" fill="none" stroke="#6cbd45" stroke-width="2.4"/>
<rect x="1123" y="1025.8" width="8.5" height="3.2" fill="#fff"/>
<rect x="1137.4" y="1025.8" width="7.8" height="3.2" fill="#6cbd45"/>
<linearGradient id="gBand" x1="0" y1="0" x2="0" y2="1"><stop offset="0" stop-color="#2f6cbc"/><stop offset="0.5" stop-color="#6fb0e2"/><stop offset="1" stop-color="#2b5fae"/></linearGradient>
<linearGradient id="gLG" x1="0" y1="0" x2="0" y2="1"><stop offset="0" stop-color="#c8e2a8"/><stop offset="1" stop-color="#7dbb45"/></linearGradient>
<g>
<path d="M946,1005 L961,1005 L961,1013 L946,1013 Z" fill="#f4f7f8"/>
<path d="M946,1013 L960,1013 L957,1020 L953,1022 L949,1020 Z" fill="url(#gLG)"/>
<path d="M952.2,987 L939.6,992.6 L939.6,1001 L945,998 L946,994 L952.5,990.5 Z" fill="#1d3f95"/>
<path d="M953,987 L966,992.6 L966,1001 L961.5,998 L960.5,994 L953.5,990.5 Z" fill="#6cb33f"/>
<path d="M945,997.5 L962,997.5 L962.5,1005.3 L945.5,1005.3 Z" fill="url(#gBand)"/>
<path d="M939.6,1000 L945,997.5 L945.5,1005.3 L943,1009 L940,1006 Z" fill="#172f72"/>
<path d="M962,998.5 L966.5,1001 L970,1006 L969.5,1013.5 L965,1010 L962.5,1005 Z" fill="#1d3f95"/>
<path d="M936.3,1006.4 L941,1008 L944,1013 L949,1020 L953,1027 L946,1021 L939,1013 Z" fill="#6cb33f"/>
<path d="M943,1012 L946,1013 L950,1020 L953,1027 L948,1022 Z" fill="#173a6e"/>
<path d="M960,1008 L965,1010 L966.5,1013 L961,1020 L953.5,1027 L957,1019 Z" fill="#4f9d3a"/>
</g>
<rect x="926.5" y="87.2" width="44.4" height="43.2" rx="3.5" fill="#0b48a0"/>
<text x="949" y="120" text-anchor="middle" font-family="Liberation Sans, sans-serif" font-weight="bold" font-size="32" fill="#fff" textLength="26" lengthAdjust="spacingAndGlyphs">AI</text>
<text x="1008" y="121.6" font-family="Liberation Sans, sans-serif" font-weight="bold" font-size="38" fill="#0b48a0">
<tspan textLength="34" lengthAdjust="spacingAndGlyphs">AI</tspan><tspan x="1080.5" textLength="88.5" lengthAdjust="spacingAndGlyphs">SASE</tspan><tspan x="1170" y="120.6" font-size="36.3">赋能</tspan></text>
<rect x="1048" y="107" width="26" height="3.2" fill="#0b48a0"/>
<rect x="1059.4" y="95.5" width="3.2" height="25.5" fill="#0b48a0"/>
<text x="679" y="302" text-anchor="middle" font-family="Liberation Sans, sans-serif" font-size="36.5" fill="#8cc63f" stroke="#8cc63f" stroke-width="0.5" letter-spacing="0.8">新型威胁防护</text>
<text x="1492.5" y="302" text-anchor="middle" font-family="Liberation Sans, sans-serif" font-size="36.5" fill="#8cc63f" stroke="#8cc63f" stroke-width="0.5" letter-spacing="0.8">统一管理与组网</text>
<text x="678" y="398" text-anchor="middle" font-family="Liberation Sans, sans-serif" font-size="37" fill="#626262" letter-spacing="0.75">云威胁情报网关</text>
<text x="678" y="494" text-anchor="middle" font-family="Liberation Sans, sans-serif" font-size="37" fill="#626262" letter-spacing="0.6">GPT钓鱼邮件防护</text>
<text x="1491.5" y="398.5" text-anchor="middle" font-family="Liberation Sans, sans-serif" font-size="37" fill="#626262" letter-spacing="0.75">组网和安全管理统一</text>
<text x="1491.5" y="494" text-anchor="middle" font-family="Liberation Sans, sans-serif" font-size="37" fill="#626262" letter-spacing="0.75">全球跨境组网加速</text>
<text x="1031.5" y="1084.5" text-anchor="middle" font-family="Liberation Sans, sans-serif" font-size="37" fill="#173a94" stroke="#173a94" stroke-width="0.3" letter-spacing="0.3">百万级规则库+智能语法语义引擎</text></svg>
</body></html>
